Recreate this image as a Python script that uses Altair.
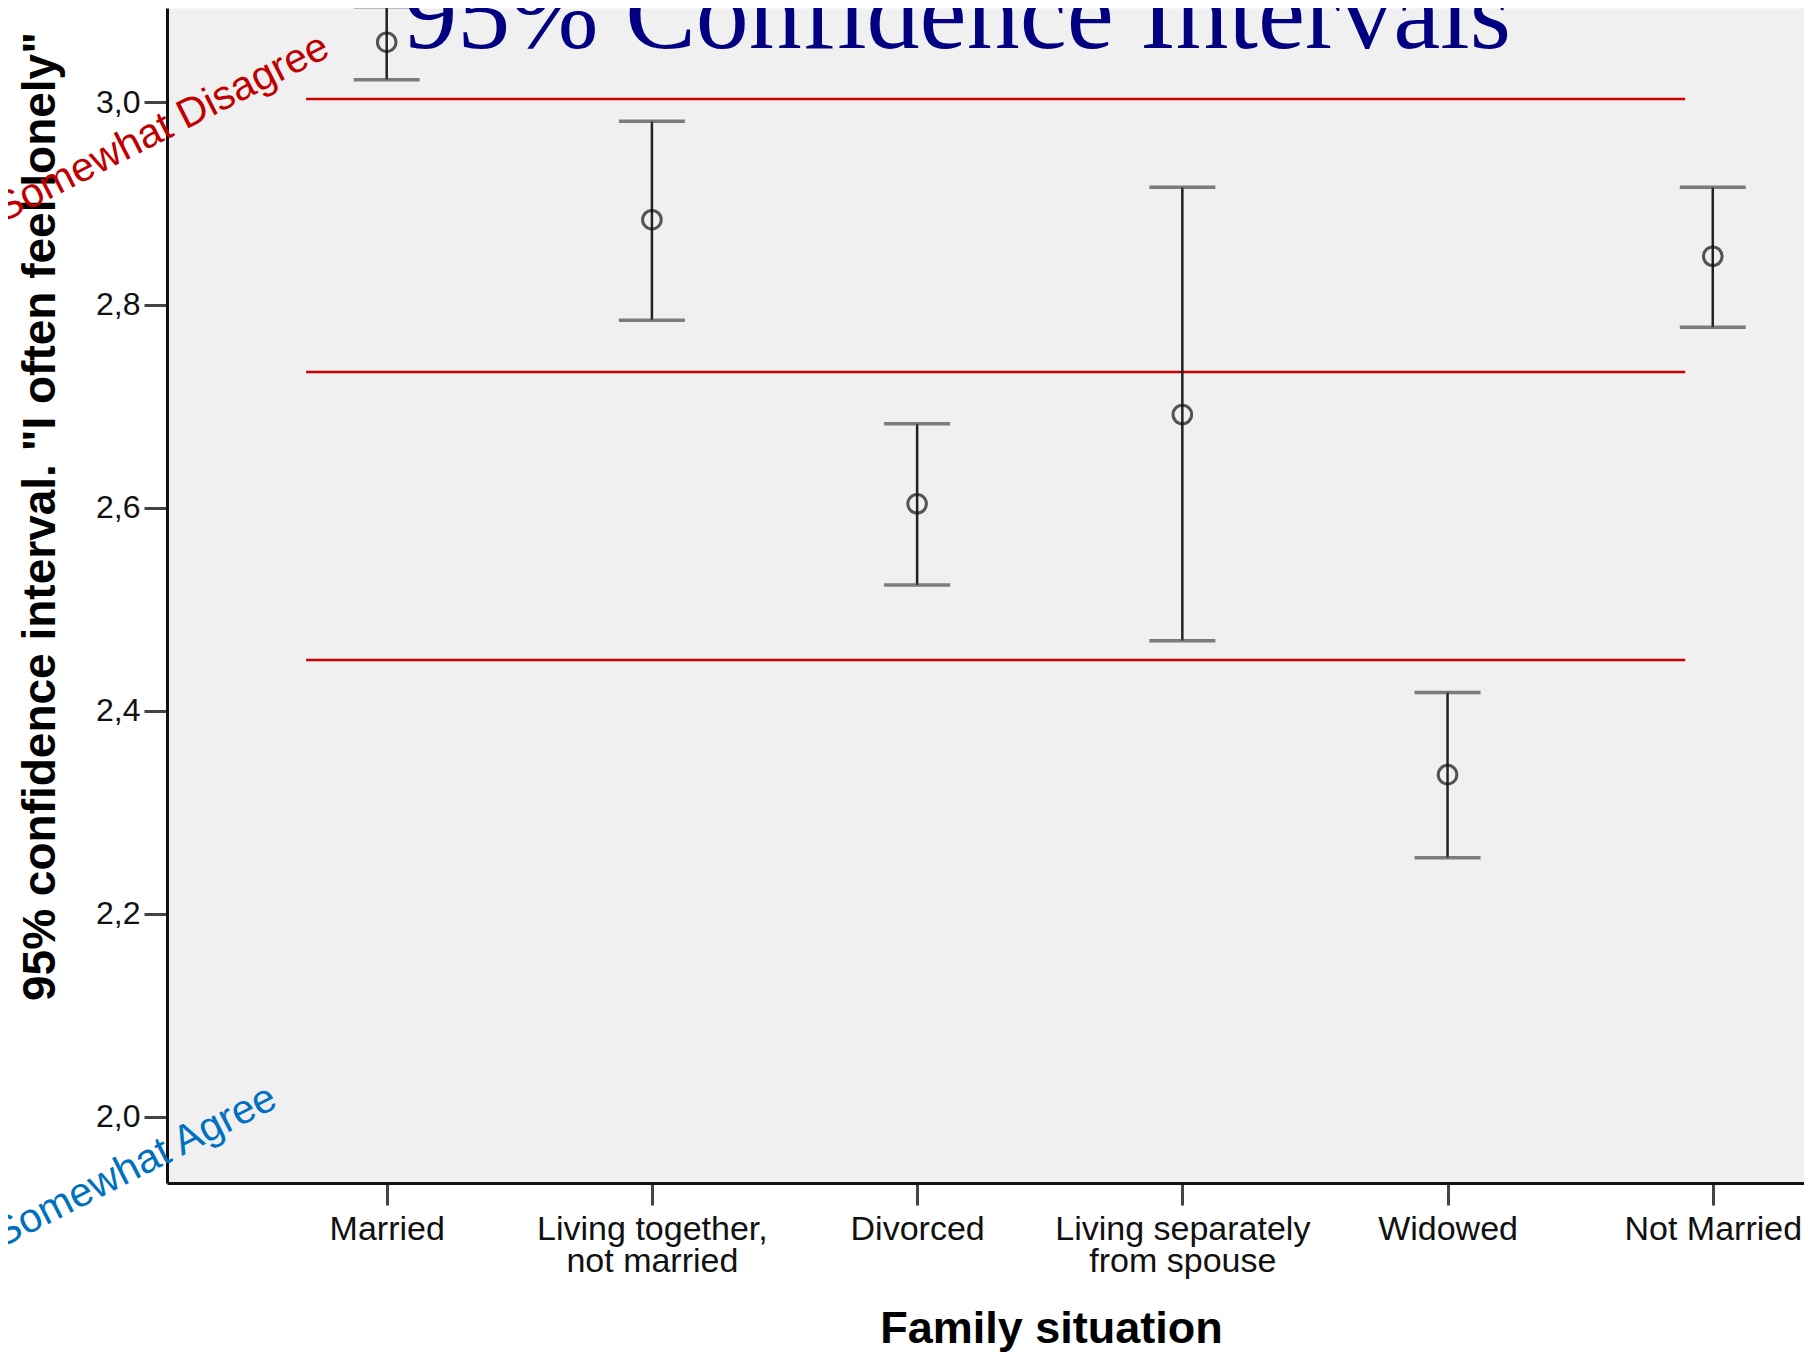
import json
import altair as alt
import pandas as pd

# ---------------- data ----------------
categories = [
    "Married",
    "Living together,\nnot married",
    "Divorced",
    "Living separately\nfrom spouse",
    "Widowed",
    "Not Married",
]
cat_index = [0, 1, 2, 3, 4, 5]
means = [3.059, 2.884, 2.604, 2.692, 2.337, 2.848]
lower = [3.022, 2.785, 2.524, 2.469, 2.255, 2.778]
upper = [3.094, 2.981, 2.683, 2.916, 2.418, 2.916]

y_ticks = [2.0, 2.2, 2.4, 2.6, 2.8, 3.0]

# red reference lines
ref_values = [3.003, 2.734, 2.450]
ref_start = [-0.304, -0.304, -0.304]
ref_end = [4.896, 4.896, 4.896]

# big title written inside the plot
title_text = ["95% Confidence Intervals"]
title_x = [2.153]
title_y = [3.053]

# rotated annotations
ann_text = ["Somewhat Disagree", "Somewhat Agree"]
ann_x = [-0.207, -0.405]
ann_y = [3.046, 2.010]
ann_color = ["#c00000", "#0070c0"]

# scale extents
x_domain = [-0.8284, 5.344]
y_domain = [1.9345, 3.0927]

# ---------------- tables ----------------
df = pd.DataFrame({"idx": cat_index, "mean": means, "lo": lower, "hi": upper})
caps = pd.DataFrame({"idx": cat_index + cat_index, "val": lower + upper})
refs = pd.DataFrame({"idx": ref_start, "idx2": ref_end, "val": ref_values})
ttl = pd.DataFrame({"idx": title_x, "val": title_y, "t": title_text})
ann = pd.DataFrame({"idx": ann_x, "val": ann_y, "t": ann_text, "c": ann_color})

label_lines = [c.split("\n") for c in categories]
x_label_expr = json.dumps(label_lines) + "[round(datum.value)]"

FONT = "Liberation Sans"

x_scale = alt.Scale(domain=x_domain, nice=False, zero=False)
y_scale = alt.Scale(domain=y_domain, nice=False, zero=False)

x_axis = alt.Axis(
    title="Family situation",
    values=cat_index,
    labelExpr=x_label_expr,
    labelFont=FONT,
    labelFontSize=34,
    labelColor="#111111",
    labelLineHeight=32,
    labelPadding=7,
    labelLimit=600,
    labelOverlap=False,
    labelFlush=False,
    tickSize=22,
    tickWidth=3,
    tickColor="#444444",
    domainColor="#111111",
    domainWidth=3,
    grid=False,
    titleFont=FONT,
    titleFontSize=45,
    titleFontWeight="bold",
    titleColor="#000000",
    titleX=884,
    titleY=159,
    titleAlign="center",
    titleBaseline="alphabetic",
)

y_axis = alt.Axis(
    title='95% confidence interval. "I often feel lonely"',
    values=y_ticks,
    labelExpr="replace(format(datum.value, '.1f'), '.', ',')",
    labelFont=FONT,
    labelFontSize=32,
    labelColor="#111111",
    labelPadding=4,
    tickSize=23,
    tickWidth=3,
    tickColor="#444444",
    domainColor="#111111",
    domainWidth=3,
    grid=False,
    titleFont=FONT,
    titleFontSize=46,
    titleFontWeight="bold",
    titleColor="#000000",
    titleAngle=270,
    titleX=-113,
    titleY=508,
    titleAlign="center",
    titleBaseline="alphabetic",
)


def X(field):
    return alt.X(field, type="quantitative", scale=x_scale, axis=x_axis)


def Y(field):
    return alt.Y(field, type="quantitative", scale=y_scale, axis=y_axis)


ref_layer = alt.Chart(refs).mark_rule(color="#cc0000", strokeWidth=2.5).encode(
    x=X("idx"), x2="idx2", y=Y("val")
)

whisker = alt.Chart(df).mark_rule(color="#222222", strokeWidth=2.5).encode(
    x=X("idx"), y=Y("lo"), y2="hi"
)

cap_layer = alt.Chart(caps).mark_tick(
    orient="horizontal", size=66, thickness=3.5, color="#4a4a4a"
).encode(x=X("idx"), y=Y("val"))

points = alt.Chart(df).mark_point(
    shape="circle", filled=False, size=346, strokeWidth=3, color="#111111"
).encode(x=X("idx"), y=Y("mean"))

title_layer = alt.Chart(ttl).mark_text(
    font="Liberation Serif",
    fontSize=106,
    color="#000080",
    align="center",
    baseline="alphabetic",
).encode(x=X("idx"), y=Y("val"), text="t:N")

ann_layer = alt.Chart(ann).mark_text(
    font=FONT, fontSize=41, angle=333, align="right", baseline="alphabetic"
).encode(
    x=X("idx"),
    y=Y("val"),
    text="t:N",
    color=alt.Color("c:N", scale=None),
)

chart = (
    alt.layer(ref_layer, whisker, cap_layer, points, title_layer, ann_layer)
    .properties(
        width=1637,
        height=1175,
        autosize=alt.AutoSizeParams(type="none"),
        padding={"left": 159, "top": 0, "right": 0, "bottom": 169},
        background="white",
    )
    .configure(font=FONT)
    .configure_view(fill="#f0f0f0", stroke="transparent")
)

chart.save("out.html", embed_options={"renderer": "svg", "actions": False})
